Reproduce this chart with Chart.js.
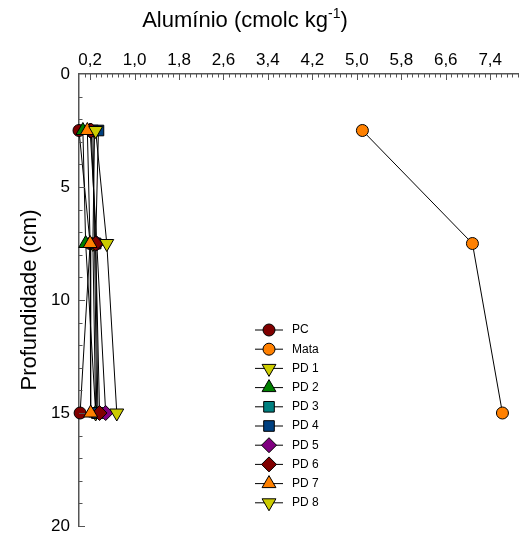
<!DOCTYPE html>
<html>
<head>
<meta charset="utf-8">
<script src="https://cdn.jsdelivr.net/npm/chart.js@4/dist/chart.umd.min.js"></script>
<style>
  html, body { margin: 0; padding: 0; background: #fff; }
  #c { display: block; }
</style>
</head>
<body>
<canvas id="c" width="527" height="538"></canvas>
<script>
// Sampling depths (cm)
const depths = [2.5, 7.5, 15];

// Exchangeable aluminium (cmolc kg-1) per profile, one value per depth
const pc   = [0.00, 0.20, 0.02];
const mata = [5.10, 7.08, 7.62];
const pd1  = [0.28, 0.25, 0.30];
const pd2  = [0.07, 0.12, 0.30];
const pd3  = [0.25, 0.28, 0.32];
const pd4  = [0.35, 0.30, 0.34];
const pd5  = [0.20, 0.32, 0.48];
const pd6  = [0.22, 0.30, 0.37];
const pd7  = [0.15, 0.20, 0.21];
const pd8  = [0.30, 0.50, 0.68];

const seriesNames  = ['PC', 'Mata', 'PD 1', 'PD 2', 'PD 3', 'PD 4', 'PD 5', 'PD 6', 'PD 7', 'PD 8'];
const seriesValues = [pc, mata, pd1, pd2, pd3, pd4, pd5, pd6, pd7, pd8];

// Axis tick labels
const xTickValues = [0.2, 1.0, 1.8, 2.6, 3.4, 4.2, 5.0, 5.8, 6.6, 7.4];
const yTickValues = [0, 5, 10, 15, 20];

// Marker look for each profile
const markerStyles = [
  { color: '#800000', shape: 'circle',   rot: 0,   r: 6 },
  { color: '#FF8000', shape: 'circle',   rot: 0,   r: 6 },
  { color: '#CCCC00', shape: 'triangle', rot: 180, r: 8 },
  { color: '#008000', shape: 'triangle', rot: 0,   r: 8 },
  { color: '#008080', shape: 'rect',     rot: 0,   r: 7.5 },
  { color: '#004080', shape: 'rect',     rot: 0,   r: 7.5 },
  { color: '#800080', shape: 'rectRot',  rot: 0,   r: 7.5 },
  { color: '#800000', shape: 'rectRot',  rot: 0,   r: 7.5 },
  { color: '#FF8000', shape: 'triangle', rot: 0,   r: 8 },
  { color: '#CCCC00', shape: 'triangle', rot: 180, r: 8 }
];

const FONT = "'Liberation Sans', Arial, sans-serif";
const AXIS_COLOR = '#555';

const datasets = seriesValues.map((vals, i) => ({
  label: seriesNames[i],
  data: vals.map((v, k) => ({ x: v, y: depths[k] })),
  showLine: true,
  borderColor: '#000',
  borderWidth: 1,
  pointStyle: markerStyles[i].shape,
  pointRotation: markerStyles[i].rot,
  pointRadius: markerStyles[i].r,
  pointBackgroundColor: markerStyles[i].color,
  pointBorderColor: '#000',
  pointBorderWidth: 1,
  order: seriesValues.length - i,
  clip: false
}));

const fmt = v => v.toFixed(1).replace('.', ',');

// Draws one legend marker in the dataset's own shape
function drawMarker(ctx, style, x, y) {
  const r = style.r;
  ctx.beginPath();
  if (style.shape === 'circle') {
    ctx.arc(x, y, r, 0, Math.PI * 2);
  } else if (style.shape === 'triangle') {
    const s = style.rot === 180 ? -1 : 1;
    for (let k = 0; k < 3; k++) {
      const a = k * 2 * Math.PI / 3;
      const px = x + Math.sin(a) * r, py = y - s * Math.cos(a) * r;
      k === 0 ? ctx.moveTo(px, py) : ctx.lineTo(px, py);
    }
    ctx.closePath();
  } else if (style.shape === 'rect') {
    const h = r * Math.SQRT1_2;
    ctx.rect(x - h, y - h, 2 * h, 2 * h);
  } else {
    ctx.moveTo(x, y - r); ctx.lineTo(x + r, y); ctx.lineTo(x, y + r); ctx.lineTo(x - r, y);
    ctx.closePath();
  }
  ctx.fillStyle = style.color;
  ctx.fill();
  ctx.strokeStyle = '#000';
  ctx.lineWidth = 1;
  ctx.stroke();
}

// Minor/major tick marks, axis titles and the legend box
const decorPlugin = {
  id: 'decor',
  afterDraw(chart) {
    const ctx = chart.ctx;
    const xs = chart.scales.x, ys = chart.scales.y;
    const area = chart.chartArea;
    ctx.save();
    ctx.strokeStyle = AXIS_COLOR;
    ctx.lineWidth = 1;
    // x ticks every 0.1, longer at labelled values
    for (let k = 1; k <= 79; k++) {
      const v = k / 10;
      const px = Math.round(xs.getPixelForValue(v)) + 0.5;
      const major = xTickValues.some(t => Math.abs(t - v) < 1e-6);
      ctx.beginPath();
      ctx.moveTo(px, area.top);
      ctx.lineTo(px, area.top + (major ? 6 : 3.5));
      ctx.stroke();
    }
    // y ticks every 1 cm, longer at labelled depths
    for (let d = 1; d <= 20; d++) {
      const py = Math.round(ys.getPixelForValue(d)) + 0.5;
      const major = d % 5 === 0;
      ctx.beginPath();
      ctx.moveTo(area.left, py);
      ctx.lineTo(area.left + (major ? 6 : 3.5), py);
      ctx.stroke();
    }

    // x title with superscript
    ctx.fillStyle = '#000';
    ctx.textBaseline = 'alphabetic';
    ctx.textAlign = 'left';
    const big = '22px ' + FONT, small = '14px ' + FONT;
    const p1 = 'Alumínio (cmolc kg', sup = '-1', p2 = ')';
    ctx.font = big; const w1 = ctx.measureText(p1).width, w3 = ctx.measureText(p2).width;
    ctx.font = small; const w2 = ctx.measureText(sup).width;
    let tx = 245 - (w1 + w2 + w3) / 2;
    const ty = 27;
    ctx.font = big; ctx.fillText(p1, tx, ty); tx += w1;
    ctx.font = small; ctx.fillText(sup, tx, ty - 9); tx += w2;
    ctx.font = big; ctx.fillText(p2, tx, ty);

    // y title
    ctx.save();
    ctx.translate(30, (area.top + area.bottom) / 2);
    ctx.rotate(-Math.PI / 2);
    ctx.textAlign = 'center';
    ctx.textBaseline = 'middle';
    ctx.font = big;
    ctx.fillText('Profundidade (cm)', 0, 0);
    ctx.restore();

    // legend
    const lx0 = 255, lx1 = 283, tx0 = 292, ly0 = 330, step = 19.2;
    chart.data.datasets.forEach((ds, i) => {
      const y = ly0 + i * step;
      ctx.strokeStyle = '#000';
      ctx.lineWidth = 1;
      ctx.beginPath();
      ctx.moveTo(lx0, y);
      ctx.lineTo(lx1, y);
      ctx.stroke();
      drawMarker(ctx, markerStyles[i], (lx0 + lx1) / 2, y);
      ctx.fillStyle = '#000';
      ctx.font = '12px ' + FONT;
      ctx.textAlign = 'left';
      ctx.textBaseline = 'middle';
      ctx.fillText(ds.label, tx0, y);
    });
    ctx.restore();
  }
};

new Chart(document.getElementById('c'), {
  type: 'scatter',
  data: { datasets },
  plugins: [decorPlugin],
  options: {
    responsive: false,
    animation: false,
    devicePixelRatio: 1,
    layout: { padding: { left: 0, right: 2, top: 0, bottom: 12 } },
    plugins: { legend: { display: false }, tooltip: { enabled: false } },
    scales: {
      x: {
        type: 'linear',
        position: 'top',
        min: 0,
        max: 7.9,
        afterBuildTicks: s => { s.ticks = xTickValues.map(v => ({ value: v })); },
        afterFit: s => { s.height = 74; s.paddingLeft = 0; s.paddingRight = 0; },
        ticks: {
          callback: v => fmt(v),
          autoSkip: false,
          maxRotation: 0,
          padding: 3,
          color: '#000',
          font: { size: 17, family: FONT }
        },
        grid: { display: false, drawTicks: false },
        border: { display: true, color: AXIS_COLOR, width: 1.5 }
      },
      y: {
        type: 'linear',
        reverse: true,
        min: 0,
        max: 20,
        afterBuildTicks: s => { s.ticks = yTickValues.map(v => ({ value: v })); },
        afterFit: s => { s.width = 79; s.paddingTop = 0; s.paddingBottom = 0; },
        ticks: {
          autoSkip: false,
          padding: 9,
          color: '#000',
          font: { size: 17, family: FONT }
        },
        grid: { display: false, drawTicks: false },
        border: { display: true, color: AXIS_COLOR, width: 1.5 }
      }
    }
  }
});
</script>
</body>
</html>
